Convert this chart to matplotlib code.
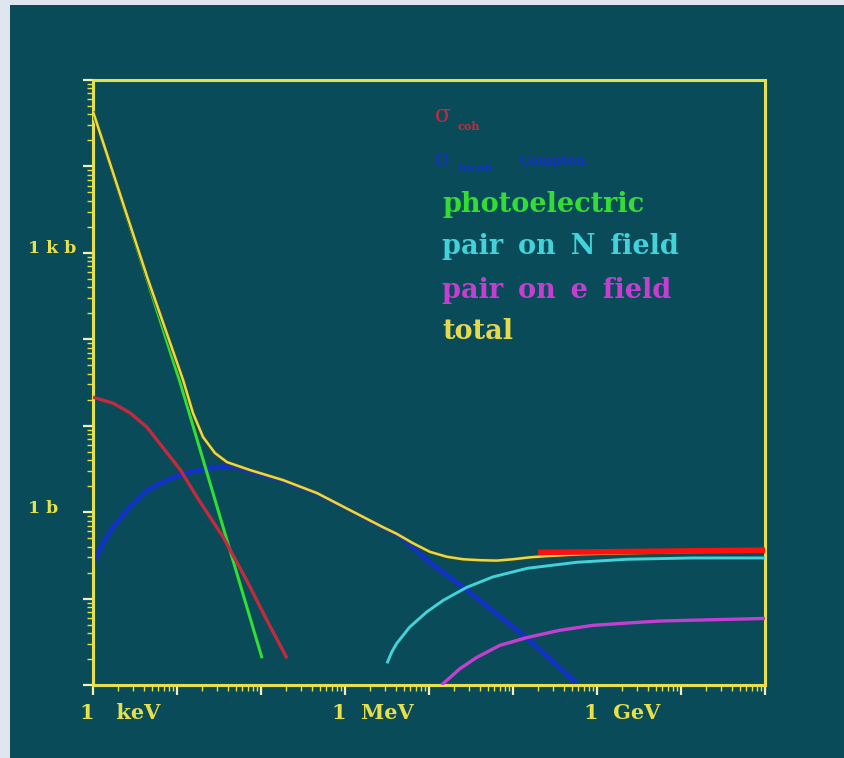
import matplotlib
matplotlib.use("Agg")
import matplotlib.pyplot as plt
import matplotlib.transforms as mtransforms
from matplotlib.patches import Rectangle
from matplotlib.ticker import LogLocator, NullFormatter

# ---------------- data (E in keV, sigma in barn) ----------------
total_E = [1, 4.52, 11.8, 15.5, 20.4, 28.3, 39.4, 74.0, 183, 465, 1148, 2831,
           4121, 6457, 10280, 16220, 25410, 40460, 63970, 100000, 158500,
           251200, 631000, 2.275e6, 1.0e7, 1.0e8]
total_sigma = [43150, 490, 33.9, 14.0, 7.40, 4.83, 3.79, 3.07, 2.35, 1.66, 1.054,
               0.670, 0.562, 0.437, 0.347, 0.305, 0.285, 0.278, 0.275, 0.285,
               0.300, 0.310, 0.326, 0.335, 0.345, 0.353]

photo_E = [1, 10.9, 103]
photo_sigma = [43150, 31.6, 0.0204]

coh_E = [1, 1.74, 2.75, 4.37, 6.76, 10.96, 17.4, 35.5, 67.6, 117.5, 204]
coh_sigma = [21.4, 18.2, 14.1, 9.66, 5.62, 3.09, 1.48, 0.513, 0.162, 0.0562, 0.0204]

compton_E = [1, 1.32, 1.74, 2.75, 4.37, 6.87, 10.96, 17.1, 28.2, 46.8, 74.1, 182,
             468, 1148, 2818, 4519, 10230, 28180, 147900, 575400]
compton_sigma = [0.257, 0.437, 0.676, 1.148, 1.778, 2.24, 2.69, 3.01, 3.31, 3.39,
                 2.95, 2.29, 1.62, 1.047, 0.661, 0.525, 0.263, 0.126, 0.0347, 0.0105]

pairN_E = [3162, 3597, 4121, 5888, 9397, 14790, 28180, 57540, 147900, 575400,
           2.29e6, 1.38e7, 1.0e8]
pairN_sigma = [0.0178, 0.0240, 0.0302, 0.0468, 0.0700, 0.0955, 0.135, 0.178,
               0.224, 0.263, 0.285, 0.295, 0.295]

pairE_E = [14130, 23440, 37150, 70000, 147900, 363000, 891300, 2.28e6, 5.62e6, 1.0e8]
pairE_sigma = [0.0100, 0.0155, 0.0209, 0.0288, 0.0355, 0.0430, 0.049, 0.0521,
               0.055, 0.0589]

limit_E = [2.0e5, 1.0e8]
limit_sigma = [0.342, 0.363]

x_tick_values = [1, 1e3, 1e6]
x_tick_labels = ["1   keV", "1  MeV", "1  GeV"]
y_tick_values = [1e3, 1]
y_tick_labels = ["1 k b", "1 b"]

legend_labels = ["photoelectric", "pair\u2009 on\u2009 N\u2009 field",
                 "pair\u2009 on\u2009 e\u2009 field", "total"]

# ---------------- style ----------------
TEAL = "#094b58"
FRAME = "#dfe6ef"
AXIS_Y = "#e6e04a"
C_TOTAL = "#e8d84c"
C_PHOTO = "#33dd33"
C_COH = "#c42a3e"
C_COMP = "#1232c4"
C_PAIRN = "#44d2da"
C_PAIRE = "#c43ed2"
C_LIMIT = "#ff1010"
FONT = "DejaVu Serif"

W, H = 844, 758
fig = plt.figure(figsize=(W / 100, H / 100), dpi=100)
fig.patch.set_facecolor(FRAME)
fig.add_artist(Rectangle((10 / W, 0), (W - 10) / W, (H - 5) / H,
                         transform=fig.transFigure, facecolor=TEAL,
                         edgecolor="none", zorder=-10))

ax = fig.add_axes([93 / W, 73 / H, 672 / W, 605 / H])
ax.set_facecolor(TEAL)
ax.set_xscale("log")
ax.set_yscale("log")
ax.set_xlim(1, 1e8)
ax.set_ylim(1e-2, 1e5)

for s in ax.spines.values():
    s.set_color(AXIS_Y)
    s.set_linewidth(2.2)

ax.xaxis.set_major_locator(LogLocator(base=10, numticks=20))
ax.xaxis.set_minor_locator(LogLocator(base=10, subs=range(2, 10), numticks=100))
ax.yaxis.set_major_locator(LogLocator(base=10, numticks=20))
ax.yaxis.set_minor_locator(LogLocator(base=10, subs=range(2, 10), numticks=100))
ax.xaxis.set_minor_formatter(NullFormatter())
ax.yaxis.set_minor_formatter(NullFormatter())
ax.tick_params(which="major", direction="out", length=7, width=1.6,
               color="#f2eec0", labelbottom=False, labelleft=False)
ax.tick_params(which="minor", direction="out", length=4, width=1.0,
               color=AXIS_Y)
ax.tick_params(top=False, right=False)

# ---------------- curves ----------------
kw = dict(solid_capstyle="butt", solid_joinstyle="round")
ax.plot(compton_E, compton_sigma, color=C_COMP, lw=3.5, zorder=2, **kw)
ax.plot(photo_E, photo_sigma, color=C_PHOTO, lw=2.2, zorder=3, **kw)
ax.plot(coh_E, coh_sigma, color=C_COH, lw=2.4, zorder=3, **kw)
ax.plot(pairN_E, pairN_sigma, color=C_PAIRN, lw=2.1, zorder=3, **kw)
ax.plot(pairE_E, pairE_sigma, color=C_PAIRE, lw=2.4, zorder=3, **kw)
ax.plot(total_E, total_sigma, color="#3c4a1e", lw=3.0, zorder=4, **kw)
ax.plot(total_E, total_sigma, color=C_TOTAL, lw=1.8, zorder=5, **kw)
ax.plot(limit_E, limit_sigma, color=C_LIMIT, lw=4.0, zorder=6, **kw)

# ---------------- tick labels ----------------
xoff = mtransforms.ScaledTranslation(-13 / 100, 0, fig.dpi_scale_trans)
xtrans = mtransforms.blended_transform_factory(ax.transData, fig.transFigure) + xoff
for v, lab in zip(x_tick_values, x_tick_labels):
    ax.text(v, 1 - 713 / H, lab, transform=xtrans, ha="left", va="center",
            family=FONT, weight="bold", fontsize=15, color=AXIS_Y, clip_on=False)

yoff = mtransforms.ScaledTranslation(0, 4 / 100, fig.dpi_scale_trans)
ytrans = mtransforms.blended_transform_factory(fig.transFigure, ax.transData) + yoff
for v, lab in zip(y_tick_values, y_tick_labels):
    ax.text(28 / W, v, lab, transform=ytrans, ha="left", va="center",
            family=FONT, weight="bold", fontsize=12.5, color=AXIS_Y, clip_on=False)

# ---------------- legend text ----------------
def ftxt(x, y, s, **kw):
    fig.text(x / W, 1 - y / H, s, ha="left", va="center", family=FONT, **kw)

ftxt(435, 116, "σ", color=C_COH, fontsize=17)
ftxt(458, 126, "coh", color=C_COH, fontsize=8, weight="bold")
ftxt(435, 159, "σ", color=C_COMP, fontsize=17)
ftxt(459, 168, "incoh", color=C_COMP, fontsize=8, weight="bold")
ftxt(519, 162, "Compton", color=C_COMP, fontsize=9.5, weight="bold")

legend_colors = [C_PHOTO, C_PAIRN, C_PAIRE, C_TOTAL]
legend_y = [205, 247, 291, 332]
for lab, c, yy in zip(legend_labels, legend_colors, legend_y):
    ftxt(442, yy, lab, color=c, fontsize=19.5, weight="bold")

fig.savefig("out.png", dpi=100, facecolor=fig.get_facecolor())
